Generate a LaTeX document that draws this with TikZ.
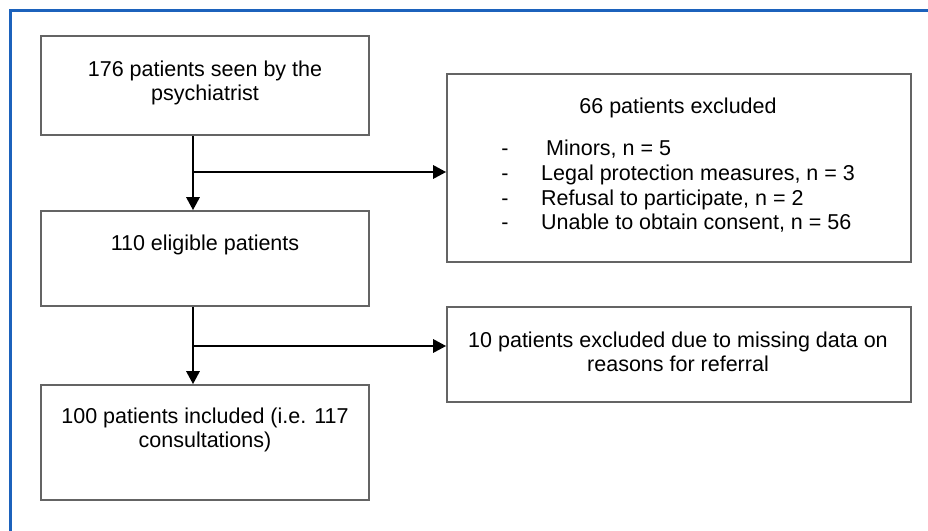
\documentclass[tikz,border=0pt]{standalone}
\usepackage{fontspec}
\setmainfont{Liberation Sans}
\usetikzlibrary{arrows.meta}
\definecolor{frameblue}{RGB}{28,98,188}
\definecolor{boxgray}{RGB}{100,100,100}
\begin{document}
\begin{tikzpicture}[x=1pt,y=-1pt,
  box/.style={draw=boxgray, line width=1.6pt, rectangle, inner sep=0pt},
  txt/.style={inner sep=0pt, align=center, font=\fontsize{21.5}{24.5}\selectfont},
  ltxt/.style={inner sep=0pt, anchor=base west, font=\fontsize{21.5}{24.5}\selectfont},
  dtxt/.style={inner sep=0pt, anchor=base, font=\fontsize{21.5}{24.5}\selectfont},
  arr/.style={line width=2.8pt, -{Triangle[length=13pt,width=13pt]}}]
\useasboundingbox (0,0) rectangle (928,530);
\draw[frameblue, line width=3pt] (10.5,545) -- (10.5,10) -- (945,10);
% boxes
\node[box, minimum width=328, minimum height=99] (b1) at (205,85.5) {};
\node[box, minimum width=328, minimum height=95] (b2) at (205,258.5) {};
\node[box, minimum width=328, minimum height=115] (b3) at (205,442.5) {};
\node[box, minimum width=464, minimum height=188] (b4) at (679,168) {};
\node[box, minimum width=464, minimum height=95] (b5) at (679,354.5) {};
% texts
\node[txt] (t1) at (205,83) {176 patients seen by the\\psychiatrist};
\node[txt] (t2) at (205,245) {110 eligible patients};
\node[txt] (t3) at (205,430) {100 patients included (i.e. 117\\consultations)};
\node[txt] (t4) at (678,108) {66 patients excluded};
\node[dtxt] (d1) at (505,155) {-};
\node[dtxt] (d2) at (505,180) {-};
\node[dtxt] (d3) at (505,205) {-};
\node[dtxt] (d4) at (505,229) {-};
\node[ltxt] (l1) at (546,155) {Minors, n = 5};
\node[ltxt] (l2) at (541,180) {Legal protection measures, n = 3};
\node[ltxt] (l3) at (541,205) {Refusal to participate, n = 2};
\node[ltxt] (l4) at (541,229) {Unable to obtain consent, n = 56};
\node[txt] (t5) at (678,352) {10 patients excluded due to missing data on\\reasons for referral};
% connectors
\coordinate (j1) at (193,172);
\coordinate (j2) at (193,346);
\draw[arr] (b1.south -| j1) -- (b2.north -| j1);
\draw[arr] (j1) -- (j1 -| b4.west);
\draw[arr] (b2.south -| j2) -- (b3.north -| j2);
\draw[arr] (j2) -- (j2 -| b5.west);
\end{tikzpicture}
\end{document}
